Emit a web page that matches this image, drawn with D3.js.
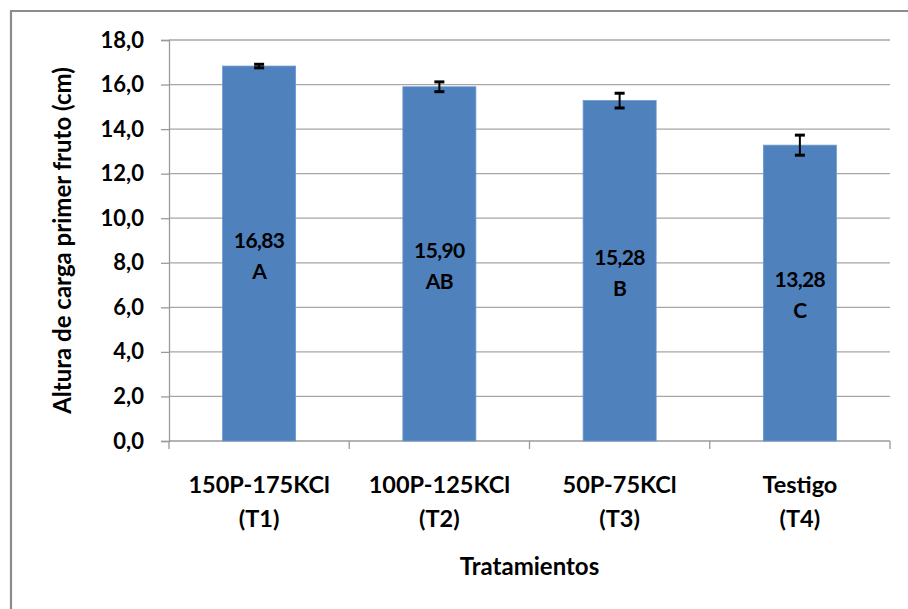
<!DOCTYPE html>
<html>
<head>
<meta charset="utf-8">
<script src="https://cdn.jsdelivr.net/npm/d3@7"></script>
<style>
  body { margin: 0; background: #fff; }
  text { font-family: Lato, "Open Sans", sans-serif; font-weight: bold; fill: #000; }
</style>
</head>
<body>
<div id="chart"></div>
<script>
// data
const tratamientos = ["150P-175KCl", "100P-125KCl", "50P-75KCl", "Testigo"];
const codigos = ["(T1)", "(T2)", "(T3)", "(T4)"];
const medias = [16.83, 15.90, 15.28, 13.28];
const errores = [0.08, 0.22, 0.33, 0.45];
const letras = ["A", "AB", "B", "C"];
const yTicks = [0, 2, 4, 6, 8, 10, 12, 14, 16, 18];

const W = 908, H = 609;
const margin = { top: 40, right: 18, bottom: 168, left: 169 };
const width = W - margin.left - margin.right;
const height = H - margin.top - margin.bottom;

const svg = d3.select("#chart").append("svg")
    .attr("width", W)
    .attr("height", H);

// outer frame (runs off right/bottom like in the source)
svg.append("path")
    .attr("d", `M11,${H + 5} L11,11 L${W + 5},11`)
    .attr("fill", "none")
    .attr("stroke", "#8c8c8c")
    .attr("stroke-width", 2.2);

const g = svg.append("g").attr("transform", `translate(${margin.left},${margin.top})`);

const x = d3.scaleBand()
    .domain(tratamientos)
    .range([0, width])
    .paddingInner(0.595)
    .paddingOuter(0.2975);

const y = d3.scaleLinear()
    .domain([0, 18])
    .range([height, 0]);

// gridlines
g.append("g")
    .selectAll("line")
    .data(yTicks.slice(1))
    .enter()
    .append("line")
    .attr("x1", 0)
    .attr("x2", width)
    .attr("y1", d => y(d))
    .attr("y2", d => y(d))
    .attr("stroke", "#a6a6a6")
    .attr("stroke-width", 1.3);

// y axis
const yAxis = g.append("g")
    .call(d3.axisLeft(y).tickValues(yTicks).tickSize(8).tickPadding(17)
        .tickFormat(d => d3.format(".1f")(d).replace(".", ",")));
yAxis.selectAll("path, line").attr("stroke", "#9a9a9a").attr("stroke-width", 1.3);
yAxis.selectAll("text").attr("font-size", 22).attr("font-family", null);

// x axis with ticks between categories
const xAxis = g.append("g").attr("transform", `translate(0,${height})`);
xAxis.append("line")
    .attr("x1", 0).attr("x2", width)
    .attr("stroke", "#9a9a9a").attr("stroke-width", 1.3);
const step = x.step();
xAxis.selectAll(".sep")
    .data(d3.range(tratamientos.length + 1))
    .enter()
    .append("line")
    .attr("x1", i => i * step)
    .attr("x2", i => i * step)
    .attr("y1", 0)
    .attr("y2", 8)
    .attr("stroke", "#9a9a9a").attr("stroke-width", 1.3);

const xl = xAxis.selectAll(".lbl")
    .data(tratamientos)
    .enter()
    .append("text")
    .attr("text-anchor", "middle")
    .attr("font-size", 23.5)
    .attr("x", d => x(d) + x.bandwidth() / 2)
    .attr("y", 52);
xl.append("tspan").text(d => d);
xl.append("tspan")
    .attr("x", d => x(d) + x.bandwidth() / 2)
    .attr("dy", 34)
    .text((d, i) => codigos[i]);

// bars
g.selectAll(".bar")
    .data(medias)
    .enter()
    .append("rect")
    .attr("x", (d, i) => x(tratamientos[i]))
    .attr("y", d => y(d))
    .attr("width", x.bandwidth())
    .attr("height", d => height - y(d))
    .attr("fill", "#4f81bd")
    .attr("stroke", "#6b97cf")
    .attr("stroke-width", 0.8);

// error bars
const eb = g.selectAll(".err")
    .data(medias)
    .enter()
    .append("g")
    .attr("stroke", "#000")
    .attr("stroke-width", 2);
eb.append("line")
    .attr("x1", (d, i) => x(tratamientos[i]) + x.bandwidth() / 2)
    .attr("x2", (d, i) => x(tratamientos[i]) + x.bandwidth() / 2)
    .attr("y1", (d, i) => y(d + errores[i]))
    .attr("y2", (d, i) => y(d - errores[i]));
[1, -1].forEach(s => {
    eb.append("line")
        .attr("x1", (d, i) => x(tratamientos[i]) + x.bandwidth() / 2 - 5)
        .attr("x2", (d, i) => x(tratamientos[i]) + x.bandwidth() / 2 + 5)
        .attr("y1", (d, i) => y(d + s * errores[i]))
        .attr("y2", (d, i) => y(d + s * errores[i]))
        .attr("stroke-width", 3);
});

// value + letter labels in the bars
const lab = g.selectAll(".val")
    .data(medias)
    .enter()
    .append("text")
    .attr("text-anchor", "middle")
    .attr("font-size", 21)
    .attr("letter-spacing", -0.6)
    .attr("x", (d, i) => x(tratamientos[i]) + x.bandwidth() / 2)
    .attr("y", d => y(d / 2) - 6);
lab.append("tspan").text(d => d3.format(".2f")(d).replace(".", ","));
lab.append("tspan")
    .attr("x", (d, i) => x(tratamientos[i]) + x.bandwidth() / 2)
    .attr("dy", 31)
    .text((d, i) => letras[i]);

// axis titles
svg.append("text")
    .attr("transform", `translate(71,${margin.top + height / 2}) rotate(-90)`)
    .attr("text-anchor", "middle")
    .attr("font-size", 24)
    .text("Altura de carga primer fruto (cm)");

svg.append("text")
    .attr("x", margin.left + width / 2)
    .attr("y", 575)
    .attr("text-anchor", "middle")
    .attr("font-size", 24)
    .text("Tratamientos");
</script>
</body>
</html>
